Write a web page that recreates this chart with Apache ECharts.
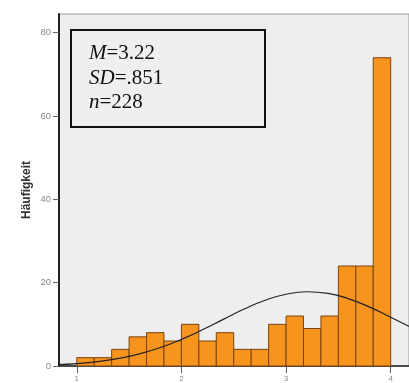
<!DOCTYPE html>
<html>
<head>
<meta charset="utf-8">
<script src="https://cdn.jsdelivr.net/npm/echarts@6/dist/echarts.min.js"></script>
<style>
html,body{margin:0;padding:0;background:#fff;}
#chart{width:409px;height:383px;}
</style>
</head>
<body>
<div id="chart"></div>
<script>
// Bin edges (value scale) and counts per bin
const binEdges = [1, 1.1667, 1.3333, 1.5, 1.6667, 1.8333, 2, 2.1667, 2.3333, 2.5, 2.6667, 2.8333, 3, 3.1667, 3.3333, 3.5, 3.6667, 3.8333, 4];
const counts = [2, 2, 4, 7, 8, 6, 10, 6, 8, 4, 4, 10, 12, 9, 12, 24, 24, 74];
// Normal curve points
const curveX = [0.8, 1.0, 1.2, 1.4, 1.6, 1.8, 2.0, 2.2, 2.4, 2.6, 2.8, 3.0, 3.2, 3.4, 3.6, 3.8, 4.0, 4.2];
const curveY = [0.31, 0.59, 1.07, 1.81, 2.91, 4.43, 6.38, 8.69, 11.2, 13.67, 15.78, 17.23, 17.82, 17.43, 16.13, 14.13, 11.71, 9.18];
const xTicks = [1, 2, 3, 4];
const yTicks = [0, 20, 40, 60, 80];
const statLines = [['M', '=3.22'], ['SD', '=.851'], ['n', '=228']];
const yName = 'Häufigkeit';

const histData = counts.map((c, i) => [binEdges[i], binEdges[i + 1], c]);
const lineData = curveX.map((x, i) => [x, curveY[i]]);
const boxText = statLines.map(l => '{i|' + l[0] + '}{n|' + l[1] + '}').join('\n');

const chart = echarts.init(document.getElementById('chart'), null, {renderer: 'canvas'});
chart.setOption({
  animation: false,
  backgroundColor: '#ffffff',
  grid: {
    left: 59, top: 14, right: -3, bottom: 14,
    show: true, backgroundColor: '#eeeeee', borderColor: '#9a9a9a', borderWidth: 1
  },
  xAxis: {
    type: 'value', min: 0.83, max: 4.175,
    splitLine: {show: false},
    axisLine: {show: true, onZero: false, lineStyle: {color: '#222', width: 1.5}},
    axisTick: {show: true, length: 7, customValues: xTicks, lineStyle: {color: '#555'}},
    axisLabel: {customValues: xTicks, color: '#888', fontSize: 8, margin: 9, fontFamily: 'Liberation Sans'}
  },
  yAxis: {
    type: 'value', min: 0, max: 84.5,
    name: yName, nameLocation: 'middle', nameRotate: 90, nameGap: 26, nameMoveOverlap: false,
    nameTextStyle: {fontSize: 12, fontWeight: 'bold', color: '#333', fontFamily: 'Liberation Sans'},
    splitLine: {show: false},
    axisLine: {show: true, lineStyle: {color: '#222', width: 2}},
    axisTick: {show: true, length: 6, customValues: yTicks, lineStyle: {color: '#666'}},
    axisLabel: {customValues: yTicks, color: '#888', fontSize: 9.5, margin: 8, fontFamily: 'Liberation Sans'}
  },
  series: [
    {
      type: 'custom',
      data: histData,
      encode: {x: [0, 1], y: 2},
      z: 2,
      renderItem: function (params, api) {
        const p0 = api.coord([api.value(0), api.value(2)]);
        const p1 = api.coord([api.value(1), 0]);
        return {
          type: 'rect',
          shape: {x: p0[0], y: p0[1], width: p1[0] - p0[0], height: p1[1] - p0[1]},
          style: {fill: '#f7941e', stroke: '#7a4410', lineWidth: 1}
        };
      }
    },
    {
      type: 'line',
      data: lineData,
      smooth: true,
      showSymbol: false,
      z: 5,
      lineStyle: {color: '#222', width: 1.2}
    }
  ],
  graphic: [
    {
      type: 'rect', left: 70, top: 29, z: 10,
      shape: {width: 194, height: 97},
      style: {fill: '#efefef', stroke: '#111', lineWidth: 2}
    },
    {
      type: 'text', left: 89, top: 43, z: 11,
      style: {
        text: boxText,
        rich: {
          i: {fontFamily: 'Liberation Serif', fontStyle: 'italic', fontSize: 21, lineHeight: 24.5, fill: '#111'},
          n: {fontFamily: 'Liberation Serif', fontSize: 21, lineHeight: 24.5, fill: '#111'}
        }
      }
    }
  ]
});
</script>
</body>
</html>
